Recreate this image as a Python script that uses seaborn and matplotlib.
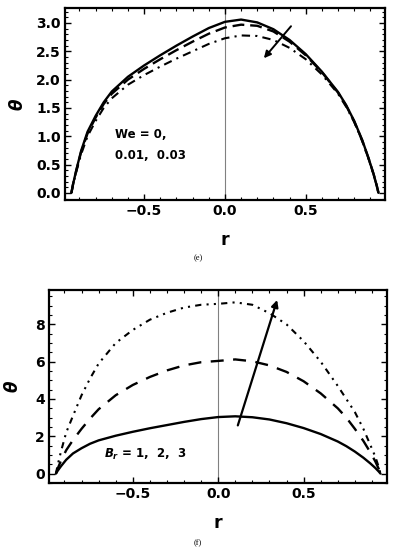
import matplotlib
matplotlib.use("Agg")
import matplotlib.pyplot as plt
import pandas as pd
import seaborn as sns
from matplotlib.ticker import MultipleLocator, FuncFormatter, FormatStrFormatter

# radial positions
r = [-0.95, -0.94, -0.92, -0.89, -0.85, -0.8, -0.75, -0.7, -0.6, -0.5, -0.4, -0.3,
     -0.2, -0.1, 0.0, 0.1, 0.2, 0.3, 0.4, 0.5, 0.6, 0.7, 0.75, 0.8, 0.85, 0.89,
     0.92, 0.94, 0.95]

# panel (e): We = 0, 0.01, 0.03
theta_we0 = [0, 0.15, 0.4, 0.74, 1.08, 1.36, 1.6, 1.79, 2.05, 2.25, 2.43, 2.6, 2.76,
             2.91, 3.02, 3.06, 3.01, 2.89, 2.7, 2.45, 2.14, 1.78, 1.55, 1.27, 0.93,
             0.6, 0.33, 0.12, 0]
theta_we001 = [0, 0.15, 0.39, 0.72, 1.05, 1.33, 1.57, 1.75, 2.0, 2.19, 2.36, 2.52,
               2.67, 2.81, 2.92, 2.97, 2.95, 2.85, 2.67, 2.43, 2.13, 1.77, 1.54,
               1.26, 0.92, 0.6, 0.33, 0.12, 0]
theta_we003 = [0, 0.14, 0.37, 0.68, 1.0, 1.27, 1.5, 1.67, 1.91, 2.08, 2.23, 2.37,
               2.5, 2.63, 2.73, 2.78, 2.77, 2.7, 2.56, 2.36, 2.09, 1.75, 1.52, 1.25,
               0.91, 0.59, 0.32, 0.12, 0]

# panel (f): Br = 1, 2, 3
theta_br1 = [0, 0.15, 0.4, 0.74, 1.08, 1.36, 1.6, 1.78, 2.03, 2.24, 2.43, 2.6, 2.77,
             2.92, 3.03, 3.07, 3.02, 2.9, 2.7, 2.44, 2.12, 1.72, 1.47, 1.18, 0.85,
             0.55, 0.3, 0.11, 0]
theta_br2 = [0, 0.26, 0.7, 1.25, 1.8, 2.4, 2.95, 3.45, 4.2, 4.75, 5.18, 5.53, 5.8,
             5.97, 6.04, 6.12, 6.02, 5.8, 5.45, 4.95, 4.3, 3.5, 3.0, 2.4, 1.75, 1.15,
             0.65, 0.25, 0]
theta_br3 = [0, 0.45, 1.2, 2.2, 3.1, 4.2, 5.1, 5.9, 7.0, 7.7, 8.25, 8.62, 8.9, 9.05,
             9.1, 9.18, 9.05, 8.6, 8.0, 7.1, 6.0, 4.7, 4.0, 3.3, 2.4, 1.55, 0.9, 0.35,
             0]

sns.set_style("ticks")
plt.rcParams["font.family"] = ["DejaVu Sans"]
plt.rcParams["font.weight"] = "bold"
plt.rcParams["text.color"] = "black"
plt.rcParams["axes.labelcolor"] = "black"
plt.rcParams["xtick.color"] = "black"
plt.rcParams["ytick.color"] = "black"
plt.rcParams["mathtext.fontset"] = "custom"
plt.rcParams["mathtext.it"] = "DejaVu Sans:italic:bold"
plt.rcParams["mathtext.rm"] = "DejaVu Sans:bold"

fig = plt.figure(figsize=(3.96, 5.5), dpi=100)
ax_e = fig.add_axes([0.164, 0.636, 0.808, 0.349])
ax_f = fig.add_axes([0.124, 0.122, 0.854, 0.351])

df_e = pd.DataFrame({"r": r, "We0": theta_we0, "We001": theta_we001, "We003": theta_we003})
df_f = pd.DataFrame({"r": r, "Br1": theta_br1, "Br2": theta_br2, "Br3": theta_br3})

sns.lineplot(data=df_e, x="r", y="We0", ax=ax_e, color="black", lw=1.7)
sns.lineplot(data=df_e, x="r", y="We001", ax=ax_e, color="black", lw=1.7,
             linestyle=(0, (5, 2.5)))
sns.lineplot(data=df_e, x="r", y="We003", ax=ax_e, color="black", lw=1.5,
             linestyle=(0, (4, 2.5, 1, 2.5)))

sns.lineplot(data=df_f, x="r", y="Br1", ax=ax_f, color="black", lw=1.7)
sns.lineplot(data=df_f, x="r", y="Br2", ax=ax_f, color="black", lw=1.7,
             linestyle=(0, (5.5, 4)))
sns.lineplot(data=df_f, x="r", y="Br3", ax=ax_f, color="black", lw=1.5,
             linestyle=(0, (3, 2.5, 1, 2.5, 1, 2.5)))

minus_fmt = FuncFormatter(
    lambda v, p: ("\u2212%.1f" % abs(v)) if v < -1e-9 else "%.1f" % abs(v))

for ax in (ax_e, ax_f):
    ax.axvline(0, color="#808080", lw=0.8, zorder=0)
    ax.set_xlim(-0.99, 0.99)
    ax.xaxis.set_major_locator(MultipleLocator(0.5))
    ax.xaxis.set_minor_locator(MultipleLocator(0.1))
    ax.xaxis.set_major_formatter(minus_fmt)
    ax.tick_params(which="both", direction="in", top=True, right=True,
                   color="black", labelcolor="black", labelsize=10, pad=3)
    ax.tick_params(which="major", length=4, width=1)
    ax.tick_params(which="minor", length=2, width=0.8)
    for s in ax.spines.values():
        s.set_linewidth(1.6)
        s.set_color("black")
    ax.set_xlabel("r", fontsize=12.5, fontweight="bold", labelpad=9)

ax_e.set_ylim(-0.13, 3.26)
ax_e.yaxis.set_major_locator(MultipleLocator(0.5))
ax_e.yaxis.set_minor_locator(MultipleLocator(0.1))
ax_e.yaxis.set_major_formatter(FormatStrFormatter("%.1f"))
ax_e.set_ylabel("θ", fontsize=12, fontweight="bold", style="italic", labelpad=7)

ax_f.set_ylim(-0.5, 9.85)
ax_f.yaxis.set_major_locator(MultipleLocator(2))
ax_f.yaxis.set_minor_locator(MultipleLocator(0.5))
ax_f.set_ylabel("θ", fontsize=12, fontweight="bold", style="italic", labelpad=10)

ax_e.annotate("", xy=(0.23, 2.34), xytext=(0.42, 2.98),
              arrowprops=dict(arrowstyle="-|>", color="black", lw=1.4,
                              mutation_scale=10))
ax_f.annotate("", xy=(0.35, 9.45), xytext=(0.11, 2.44),
              arrowprops=dict(arrowstyle="-|>", color="black", lw=1.6,
                              mutation_scale=10))

ax_e.text(-0.68, 1.03, "We = 0,", fontsize=8.5, fontweight="bold", va="center")
ax_e.text(-0.68, 0.66, "0.01,  0.03", fontsize=8.5, fontweight="bold", va="center")
ax_f.text(-0.67, 1.0, "$B_r$ = 1,  2,  3", fontsize=8.5, fontweight="bold", va="center")

fig.text(0.5, 1 - 258 / 550, "(e)", fontsize=6, family="Liberation Serif",
         ha="center", va="center", fontweight="normal")
fig.text(0.5, 1 - 543 / 550, "(f)", fontsize=6, family="Liberation Serif",
         ha="center", va="center", fontweight="normal")

fig.savefig("out.png", dpi=100)
